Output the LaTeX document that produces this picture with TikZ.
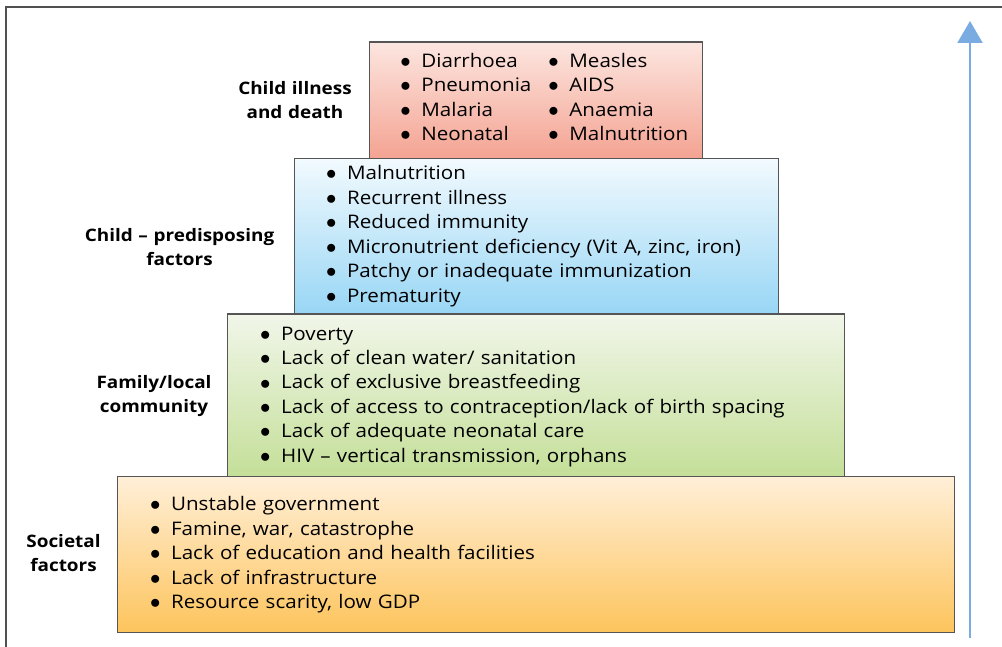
\documentclass[tikz,border=0pt]{standalone}
\usepackage{xcolor}
\usepackage{fontspec}
\setmainfont{Open Sans}[FakeStretch=1.1]
\usepackage{tikz}
\usetikzlibrary{arrows.meta}
\definecolor{boxline}{RGB}{85,85,85}
\definecolor{framegray}{RGB}{80,80,80}
\definecolor{risearrow}{RGB}{122,172,226}
\definecolor{illnessTop}{RGB}{252,230,224}
\definecolor{illnessBot}{RGB}{244,163,146}
\definecolor{predTop}{RGB}{242,250,254}
\definecolor{predBot}{RGB}{152,214,245}
\definecolor{familyTop}{RGB}{241,246,233}
\definecolor{familyBot}{RGB}{196,223,152}
\definecolor{societyTop}{RGB}{255,239,216}
\definecolor{societyBot}{RGB}{253,196,92}

\newcommand{\bul}{\makebox[21pt][l]{\scalebox{1.2}{$\bullet$}}}

\begin{document}
\begin{tikzpicture}[x=1pt, y=-1pt, thick]
  \tikzstyle{tier} = [rectangle, draw=boxline, line width=1.2pt, anchor=north west, inner sep=0pt]
  \tikzstyle{items} = [anchor=base west, inner sep=0pt, align=left, text width=700pt, font=\fontsize{18.7}{24.5}\selectfont]
  \tikzstyle{level} = [anchor=base, inner sep=0pt, align=center, text width=220pt, font=\fontsize{17.2}{24}\selectfont\bfseries]

  \useasboundingbox (0,0) rectangle (1002,647);
  \draw[framegray, line width=1.5pt] (6,647) -- (6,7) -- (1002,7);

  % the four tiers, widest at the bottom
  \node[tier, top color=societyTop, bottom color=societyBot, minimum width=837pt, minimum height=156pt] (society) at (117,476) {};
  \node[tier, top color=familyTop, bottom color=familyBot, minimum width=617pt, minimum height=162.5pt] (family) at (227,313.5) {};
  \node[tier, top color=predTop, bottom color=predBot, minimum width=484pt, minimum height=155.5pt] (predisposing) at (294,158) {};
  \node[tier, top color=illnessTop, bottom color=illnessBot, minimum width=333pt, minimum height=116.5pt] (illness) at (369,41.5) {};

  \node[items] (illnessList) at (400,67.3) {\makebox[148pt][l]{\bul Diarrhoea}\bul Measles\\
    \makebox[148pt][l]{\bul Pneumonia}\bul AIDS\\
    \makebox[148pt][l]{\bul Malaria}\bul Anaemia\\
    \makebox[148pt][l]{\bul Neonatal}\bul Malnutrition};
  \node[items] (predisposingList) at (325.7,180) {\bul Malnutrition\\ \bul Recurrent illness\\ \bul Reduced immunity\\
    \bul Micronutrient deficiency (Vit A, zinc, iron)\\ \bul Patchy or inadequate immunization\\ \bul Prematurity};
  \node[items] (familyList) at (259.7,340) {\bul Poverty\\ \bul Lack of clean water/ sanitation\\ \bul Lack of exclusive breastfeeding\\
    \bul Lack of access to contraception/lack of birth spacing\\ \bul Lack of adequate neonatal care\\
    \bul HIV \textendash\ vertical transmission, orphans};
  \node[items] (societyList) at (149.7,510.7) {\bul Unstable government\\ \bul Famine, war, catastrophe\\
    \bul Lack of education and health facilities\\ \bul Lack of infrastructure\\ \bul Resource scarity, low GDP};

  % names of the levels
  \node[level] (illnessLabel) at (295,95) {Child illness\\and death};
  \node[level] (predisposingLabel) at (179.5,241.7) {Child \textendash\ predisposing\\factors};
  \node[level] (familyLabel) at (154,388.3) {Family/local\\community};
  \node[level] (societyLabel) at (63.5,547) {Societal\\factors};

  % upward arrow on the right
  \coordinate (riseFoot) at (970,638);
  \coordinate (riseTip) at (970,21);
  \draw[risearrow, line width=2.2pt, -{Triangle[length=22pt, width=25pt]}] (riseFoot) -- (riseTip);
\end{tikzpicture}
\end{document}
